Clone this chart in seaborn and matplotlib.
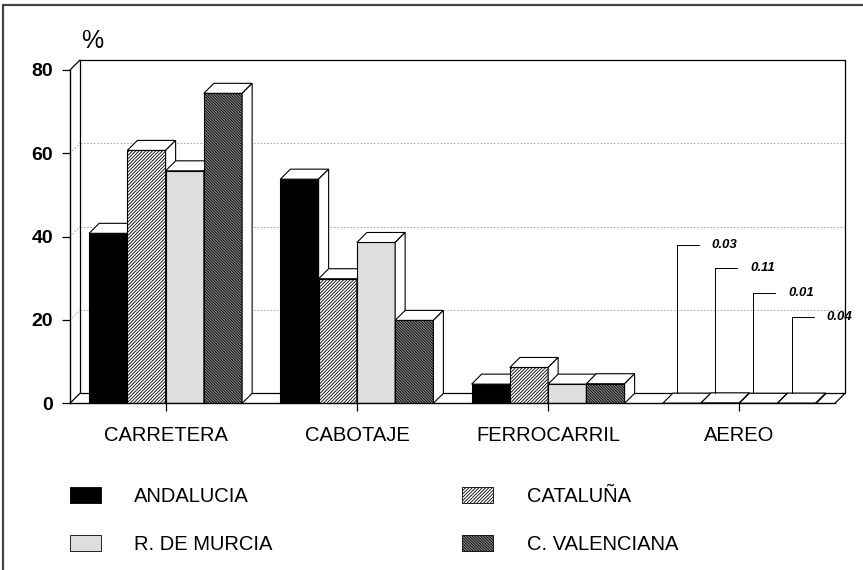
import numpy as np
import pandas as pd
import matplotlib
matplotlib.use("Agg")
import matplotlib.pyplot as plt
import seaborn as sns
from matplotlib.patches import Polygon, Patch
from matplotlib.lines import Line2D

# ---------------- data ----------------
categories = ["CARRETERA", "CABOTAJE", "FERROCARRIL", "AEREO"]
regions = ["ANDALUCIA", "CATALUÑA", "R. DE MURCIA", "C. VALENCIANA"]
andalucia = [40.8, 53.8, 4.6, 0.03]
cataluna = [60.7, 29.9, 8.6, 0.11]
murcia = [55.8, 38.6, 4.6, 0.01]
valenciana = [74.4, 19.9, 4.7, 0.04]
yticks = [0, 20, 40, 60, 80]

# ---------------- styles ----------------
sns.set_theme(style="white")
plt.rcParams["font.family"] = ["Liberation Sans", "DejaVu Sans"]
plt.rcParams["hatch.linewidth"] = 0.6
plt.rcParams["text.color"] = "black"
plt.rcParams["xtick.color"] = "black"
plt.rcParams["ytick.color"] = "black"

face = {"ANDALUCIA": "#000000", "CATALUÑA": "#ffffff",
        "R. DE MURCIA": "#dedede", "C. VALENCIANA": "#8a8a8a"}
hatch = {"ANDALUCIA": None, "CATALUÑA": "//////////",
         "R. DE MURCIA": None, "C. VALENCIANA": "\\" * 12}

df = pd.DataFrame({
    "modo": categories * 4,
    "region": np.repeat(regions, len(categories)),
    "pct": andalucia + cataluna + murcia + valenciana,
})

W, H = 863, 570
fig = plt.figure(figsize=(W / 100, H / 100), dpi=100)
ax = fig.add_axes([70 / W, 1 - 403.3 / H, 765 / W, 333.3 / H])
ax.set_facecolor("none")

sns.barplot(data=df, x="modo", y="pct", hue="region", order=categories,
            hue_order=regions, palette=[face[r] for r in regions],
            saturation=1, edgecolor="black", linewidth=0.8, width=0.8,
            errorbar=None, legend=False, ax=ax)

ax.set_xlim(-0.5, 3.5)
ax.set_ylim(0, 80)
ax.set_xlabel("")
ax.set_ylabel("")
ax.set_yticks(yticks)

# pixel -> data depth offset
p0 = ax.transData.transform((0, 0))
p1 = ax.transData.transform((1, 1))
sx, sy = p1[0] - p0[0], p1[1] - p0[1]
DX, DY = 10 / sx, 10 / sy

# ---------------- back wall / floor ----------------
x0l, x1r = -0.5, 3.5
lk = dict(color="black", lw=0.9, clip_on=False, zorder=1)
ax.plot([x0l + DX, x0l + DX], [DY, 80 + DY], **lk)
ax.plot([x0l + DX, x1r + DX], [80 + DY, 80 + DY], **lk)
ax.plot([x1r + DX, x1r + DX], [DY, 80 + DY], **lk)
ax.plot([x0l + DX, x1r + DX], [DY, DY], **lk)
ax.plot([x0l, x0l + DX], [80, 80 + DY], **lk)
ax.plot([x0l, x0l + DX], [0, DY], **lk)
ax.plot([x1r, x1r + DX], [0, DY], **lk)
for v in yticks[1:-1]:
    ax.plot([x0l + DX, x1r + DX], [v + DY, v + DY], color="#9a9a9a",
            lw=0.6, ls=(0, (2, 2)), clip_on=False, zorder=0.5)
    ax.plot([x0l, x0l + DX], [v, v + DY], color="#9a9a9a",
            lw=0.6, ls=(0, (2, 2)), clip_on=False, zorder=0.5)

# ---------------- bars in 3D ----------------
bars = []
for region, cont in zip(regions, ax.containers):
    for cat, p in zip(categories, cont.patches):
        p.set_facecolor(face[region])
        p.set_edgecolor("black")
        if hatch[region]:
            p.set_hatch(hatch[region])
        bars.append((p.get_x(), region, cat, p))
bars.sort(key=lambda t: t[0])

for i, (xb, region, cat, p) in enumerate(bars):
    z = 2 + 3 * i
    p.set_zorder(z)
    x0 = p.get_x()
    x1 = x0 + p.get_width()
    h = p.get_height()
    top = Polygon([(x0, h), (x1, h), (x1 + DX, h + DY), (x0 + DX, h + DY)],
                  closed=True, facecolor="white", edgecolor="black",
                  lw=0.8, zorder=z + 1, clip_on=False)
    side = Polygon([(x1, 0), (x1 + DX, DY), (x1 + DX, h + DY), (x1, h)],
                   closed=True, facecolor="white", edgecolor="black",
                   lw=0.8, zorder=z + 2, clip_on=False)
    ax.add_patch(top)
    ax.add_patch(side)

# ---------------- leader labels for AEREO ----------------
aereo_levels = [38.0, 32.4, 26.4, 20.7]  # label heights (layout)
ai = categories.index("AEREO")
vals = {"ANDALUCIA": andalucia, "CATALUÑA": cataluna,
        "R. DE MURCIA": murcia, "C. VALENCIANA": valenciana}
for region, cont, lev in zip(regions, ax.containers, aereo_levels):
    p = cont.patches[ai]
    xv = p.get_x() + DX + 4 / sx
    yb = p.get_height() + DY
    ax.plot([xv, xv], [yb, lev], color="black", lw=0.7, clip_on=False,
            zorder=200)
    ax.plot([xv, xv + 22 / sx], [lev, lev], color="black", lw=0.7,
            clip_on=False, zorder=200)
    ax.text(xv + 35 / sx, lev, f"{vals[region][ai]:.2f}", fontsize=9.5,
            style="italic", fontweight="bold", va="center", ha="left",
            zorder=200)

# ---------------- axes styling ----------------
for s in ["top", "right"]:
    ax.spines[s].set_visible(False)
for s in ["left", "bottom"]:
    ax.spines[s].set_color("black")
    ax.spines[s].set_linewidth(1.0)
    ax.spines[s].set_zorder(150)
ax.tick_params(axis="y", left=True, length=6, width=0.9, direction="out",
               pad=6, labelsize=14)
ax.tick_params(axis="x", bottom=True, length=6, width=0.9, direction="out",
               pad=10, labelsize=14.5)
for lab in ax.get_yticklabels():
    lab.set_fontweight("bold")
ax.grid(False)

fig.text(92 / W, 1 - 41 / H, "%", fontsize=18, ha="center", va="center")

# ---------------- legend ----------------
order = ["ANDALUCIA", "R. DE MURCIA", "CATALUÑA", "C. VALENCIANA"]
handles = [Patch(facecolor=face[r], edgecolor="black", lw=0.6,
                 hatch=hatch[r]) for r in order]
fig.legend(handles, order, ncol=2, loc="upper left",
           bbox_to_anchor=(70 / W, 1 - 487 / H), frameon=False,
           fontsize=14.5, handlelength=1.55, handleheight=0.82,
           handletextpad=1.65, columnspacing=9.4, labelspacing=1.45,
           borderpad=0, borderaxespad=0)

# ---------------- figure border (left & top) ----------------
fig.add_artist(Line2D([3 / W, 3 / W], [0, 1 - 5 / H], color="#444444",
                      lw=1.6, transform=fig.transFigure))
fig.add_artist(Line2D([3 / W, 1], [1 - 5 / H, 1 - 5 / H], color="#444444",
                      lw=1.6, transform=fig.transFigure))

fig.savefig("out.png", dpi=100, facecolor="white")
